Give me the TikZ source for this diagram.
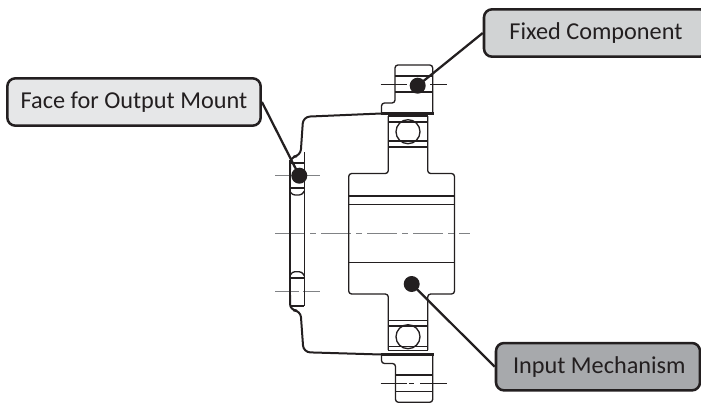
\documentclass[tikz,border=0pt]{standalone}
\usepackage{fontspec}
\setmainfont{Carlito}
\usetikzlibrary{positioning}
\definecolor{inkblack}{HTML}{231F20}
\definecolor{axisgray}{HTML}{808285}
\definecolor{facefill}{HTML}{E6E7E8}
\definecolor{fixedfill}{HTML}{D1D3D4}
\definecolor{inputfill}{HTML}{A7A9AC}
\tikzset{Part/.style={draw=inkblack, line width=1pt, line join=round},
         Axis/.style={draw=inkblack, line width=0.5pt},
         AxisGray/.style={draw=axisgray, line width=0.8pt},
         Leader/.style={draw=inkblack, line width=1.7pt},
         Dot/.style={circle, fill=inkblack, inner sep=0pt, minimum size=12pt},
         Callout/.style={draw=inkblack, line width=1.9pt, rounded corners=6pt, text=inkblack, inner sep=0pt, minimum height=35.5pt, font=\fontsize{18.2}{22}\selectfont}}

\begin{document}
\begin{tikzpicture}[x=0.75pt, y=-0.75pt]
    \useasboundingbox (0,0) rectangle (701,404);
    % centre lines
    \draw[AxisGray, dash pattern=on 22.5pt off 3.75pt on 4.5pt off 3.75pt] (275,233.7) -- (470,233.7);
    \draw[AxisGray] (275,175.7) -- (320,175.7);
    \draw[AxisGray] (275,291.7) -- (299,291.7) (303,291.7) -- (320,291.7);
    \draw[Axis] (380.7,84.3) -- (407,84.3) (430,84.3) -- (447,84.3);
    \draw[Axis] (380.7,383) -- (406.7,383) (409,383) -- (414,383) (420,383) -- (447,383);
    % hub and shaft
    \draw[Part, rounded corners=2.2pt] (388.3,116) -- (388.3,173.5) -- (348.7,173.5) -- (348.7,294) -- (388.3,294) -- (388.3,350);
    \draw[Part, rounded corners=2.2pt] (427.7,116) -- (427.7,173.5) -- (454.5,173.5) -- (454.5,294) -- (427.7,294) -- (427.7,350);
    \foreach \yy in {196,204.5,262.3} {
      \draw[Part] (348.7,\yy) -- (454.5,\yy);
    }
    % bearings
    \foreach \yy in {116,122,141,147,320.7,326,346.7,350.7} {
      \draw[Part] (388.3,\yy) -- (427.7,\yy);
    }
    \draw[Part] (408,131.7) circle (9pt);
    \draw[Part] (408,336.7) circle (9pt);
    % fixed flanges
    \draw[Part, rounded corners=2.2pt] (381.5,113) -- (381.5,103) -- (395,103) -- (395,65) -- (432.7,65) -- (432.7,113);
    \draw[Part, rounded corners=2.2pt] (381.5,355) -- (381.5,363.5) -- (395.5,363.5) -- (395.5,402.3) -- (432.7,402.3) -- (432.7,355);
    \foreach \yy in {76,92} {
      \draw[Part] (395,\yy) -- (432.7,\yy);
    }
    \foreach \yy in {375,391.7} {
      \draw[Part] (395.5,\yy) -- (432.7,\yy);
    }
    % housing
    \draw[Part, line width=1.5pt, rounded corners=5pt] (290,170) -- (290,156.8) -- (300.5,156) -- (303.2,116.8) -- (381,113.5) -- (433.5,113.5);
    \draw[Part, line width=1.5pt, rounded corners=5pt] (290,295) -- (290,310.5) -- (300.5,310.5) -- (303.5,352.2) -- (381,354.5) -- (433.5,354.5);
    \draw[Part, line width=2pt] (381,113.5) -- (433.5,113.5) (381,354.7) -- (433.5,354.7);
    % output plate
    \draw[Part] (290,160) -- (290,300) (304.3,152) -- (304.3,306);
    \foreach \yy in {163,188,278,306} {
      \draw[Part] (290,\yy) -- (304.3,\yy);
    }
    \draw[Part, rounded corners=2.2pt] (290,276) -- (292,271.7) -- (302,271.7) -- (304.3,276);
    \draw[Part, rounded corners=2.2pt] (290,191) -- (292,195) -- (302,195) -- (304.3,191);
    % callouts
    \node[Callout, fill=facefill, minimum width=190pt] (FaceBox) at (134,102) {Face for Output Mount};
    \node[Callout, fill=fixedfill, minimum width=168pt] (FixedBox) at (596,33) {Fixed Component};
    \node[Callout, fill=inputfill, minimum width=153pt] (InputBox) at (598,366.7) {\hspace{2pt}Input Mechanism};
    \node[Dot] (FaceDot) at (299.3,175.7) {};
    \node[Dot] (FixedDot) at (417.7,85.7) {};
    \node[Dot] (InputDot) at (411.7,284) {};
    \draw[Leader] (FaceBox.east) -- (FaceDot.center);
    \draw[Leader] (FixedBox.west) -- (FixedDot.center);
    \draw[Leader] (InputBox.west) -- (InputDot.center);
\end{tikzpicture}
\end{document}
